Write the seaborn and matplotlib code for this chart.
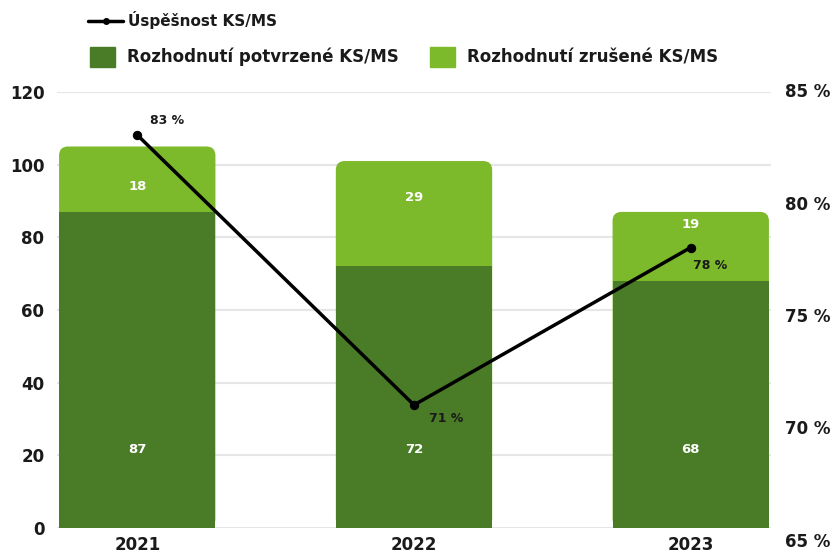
import numpy as np
import pandas as pd
import matplotlib.pyplot as plt
import seaborn as sns
from matplotlib.patches import FancyBboxPatch, Patch
from matplotlib.lines import Line2D

# data
years = ["2021", "2022", "2023"]
confirmed = [87, 72, 68]
cancelled = [18, 29, 19]
success_pct = [83, 71, 78]

DARK = "#4a7c27"
LIGHT = "#7cb92b"
INK = "#1a1a1a"

sns.set_theme(style="white")
plt.rcParams['font.family'] = ['DejaVu Sans']
plt.rcParams['font.weight'] = 'bold'
plt.rcParams['text.color'] = INK

df = pd.DataFrame({"rok": years, "potvrzene": confirmed, "zrusene": cancelled})
df["celkem"] = df["potvrzene"] + df["zrusene"]

W, H = 836, 556
left, right, top, bottom = 57, 771, 92, 528
fig = plt.figure(figsize=(W / 100, H / 100), dpi=100)
ax = fig.add_axes([left / W, 1 - bottom / H, (right - left) / W, (bottom - top) / H])

bar_w = 0.565
sns.barplot(data=df, x="rok", y="celkem", color=LIGHT, width=bar_w, saturation=1,
            edgecolor="none", linewidth=0, ax=ax)
n_top = len(ax.patches)
sns.barplot(data=df, x="rok", y="potvrzene", color=DARK, width=bar_w, saturation=1,
            edgecolor="none", linewidth=0, ax=ax)

ax.set_xlim(-0.29, 2.29)
ax.set_ylim(0, 120)

# rounded top corners on the stacked bars (drawn under the dark part)
px_x = (right - left) / 2.58
px_y = (bottom - top) / 120
radius = 9 / px_x
for p in ax.patches[:n_top]:
    p.set_visible(False)
    ax.add_patch(FancyBboxPatch((p.get_x(), p.get_y()), p.get_width(), p.get_height(),
                                boxstyle=f"round,pad=0,rounding_size={radius}",
                                mutation_aspect=px_x / px_y, fc=LIGHT, ec="none",
                                zorder=p.get_zorder() - 0.1))

# labels inside bars
top_offset = [11, 10, 3.5]
for i in range(len(years)):
    ax.text(i, 21.5, str(confirmed[i]), ha="center", va="center", color="white", fontsize=9.5)
    ax.text(i, confirmed[i] + cancelled[i] - top_offset[i], str(cancelled[i]),
            ha="center", va="center", color="white", fontsize=9.5)

ax.set_axisbelow(True)
ax.yaxis.grid(True, color="#e6e6e6", lw=1.5)
ax.set_yticks(range(0, 121, 20))
ax.tick_params(axis="y", length=0, pad=9, labelsize=12, labelcolor=INK)
ax.tick_params(axis="x", length=0, pad=6, labelsize=12, labelcolor=INK)
ax.set_xlabel("")
ax.set_ylabel("")
sns.despine(ax=ax, left=True, bottom=True)

# success rate on its own right scale
ax2 = fig.add_axes([left / W, 1 - 540 / H, (right - left) / W, (540 - 90) / H])
ax2.patch.set_visible(False)
sns.lineplot(x=np.arange(len(years)), y=success_pct, ax=ax2, color="black", lw=2.5,
             marker="o", markersize=6, markeredgecolor="black")
ax2.set_xlim(ax.get_xlim())
ax2.set_ylim(65, 85)
ax2.set_yticks(range(65, 86, 5))
ax2.set_yticklabels([f"{v} %" for v in range(65, 86, 5)])
ax2.yaxis.tick_right()
ax2.tick_params(axis="y", length=0, pad=10, labelsize=12, labelcolor=INK)
ax2.set_xticks([])
for s in ax2.spines.values():
    s.set_visible(False)

offsets = [(13, 14), (15, -14), (2, -18)]
for i, v in enumerate(success_pct):
    dx, dy = offsets[i]
    ax2.annotate(f"{v} %", (i, v), xytext=(dx * 0.72, dy * 0.72), textcoords="offset points",
                 ha="left", va="center", fontsize=9, color=INK)

# legends
fig.legend(handles=[Line2D([], [], color="black", lw=2.5, marker="o", markersize=4)],
           labels=["Úspěšnost KS/MS"], loc="center left", bbox_to_anchor=(88 / W, 1 - 20 / H),
           frameon=False, borderpad=0, borderaxespad=0, handlelength=2.3, handletextpad=0.3,
           prop={"size": 11, "weight": "bold"})
fig.legend(handles=[Patch(color=DARK), Patch(color=LIGHT)],
           labels=["Rozhodnutí potvrzené KS/MS", "Rozhodnutí zrušené KS/MS"],
           loc="center left", bbox_to_anchor=(90 / W, 1 - 57 / H), ncol=2,
           frameon=False, borderpad=0, borderaxespad=0, handlelength=1.5, handleheight=1.5,
           handletextpad=0.7, columnspacing=1.9, prop={"size": 12, "weight": "bold"})

fig.savefig("out.png", dpi=100)
